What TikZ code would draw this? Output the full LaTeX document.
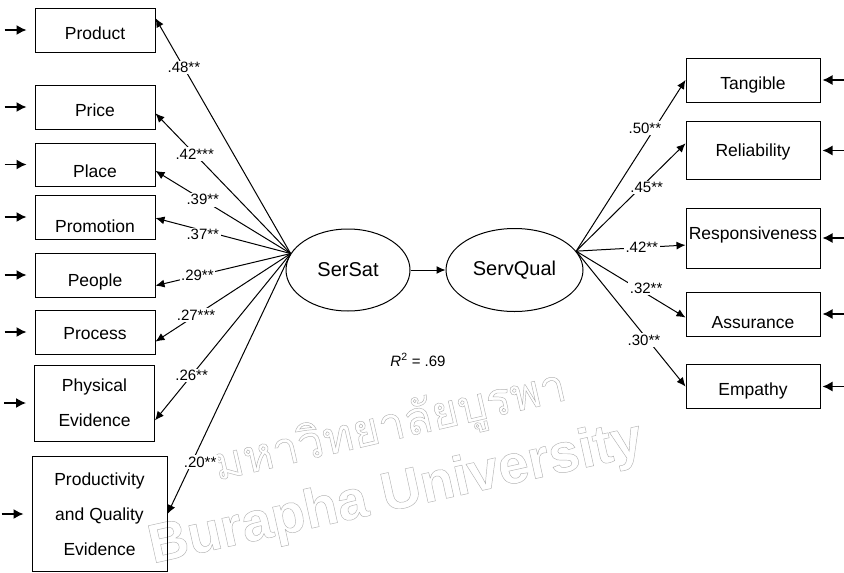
\documentclass[tikz,border=0pt]{standalone}
\usepackage{fontspec}
\setmainfont{Liberation Sans}
\newfontfamily\thaifont[Script=Thai]{Loma}
\usetikzlibrary{arrows.meta, positioning, shapes.geometric}
% hollow letters for the stamp
\newcommand{\hollowtext}[1]{\special{pdf:literal direct q 1 Tr 0.45 w}#1\special{pdf:literal direct Q}}

\begin{document}
\begin{tikzpicture}[
	x=1pt, y=-1pt,
	font=\fontsize{17.5}{35}\selectfont,
	line width=1pt,
	block/.style={rectangle, draw, align=center, inner sep=0pt,
		minimum width=120pt, minimum height=44pt},
	drop/.style={text height=#1, text depth=4pt},
	latent/.style={ellipse, draw, inner sep=0pt, font=\fontsize{20}{24}\selectfont},
	line/.style={draw, -{Latex[length=9pt, width=8pt]}},
	err/.style={line, line width=1.4pt, -{Latex[length=10pt, width=10pt]}},
	coef/.style={fill=white, inner sep=1.5pt, font=\fontsize{15}{18}\selectfont},
	stamp/.style={text=gray!60, inner sep=0pt},
	]
	\useasboundingbox (0,0) rectangle (844,573);

	% watermark
	\node [stamp, rotate=13, font=\fontsize{46}{60}\thaifont] (wmth) at (390,428)
		{\hollowtext{มหาวิทยาลัยบูรพา}};
	\node [stamp, rotate=12.5, font=\fontsize{55}{60}\selectfont\bfseries] (wmen) at (396,495)
		{\hollowtext{Burapha University}};

	% marketing mix
	\node [block, drop=22.5pt] (prod) at (95,30) {Product};
	\node [block, drop=22.5pt] (price) at (95,107) {Price};
	\node [block, drop=30.5pt, minimum height=43pt] (place) at (95,164.5) {Place};
	\node [block, drop=34.5pt] (promo) at (95,217) {Promotion};
	\node [block, drop=27.5pt] (people) at (95,275) {People};
	\node [block, drop=19.5pt] (process) at (95,332) {Process};
	\node [block, minimum height=76pt] (phys) at (94.5,403) {Physical\\Evidence};
	\node [block, minimum width=135pt, minimum height=115pt] (pqe) at (99.5,514)
		{Productivity\\and Quality\\Evidence};

	% latent variables
	\node [latent, minimum width=124pt, minimum height=82pt] (sersat) at (348,270) {SerSat};
	\node [latent, minimum width=137pt, minimum height=83pt, right=35pt of sersat] (servqual) {ServQual};
	\node [font=\fontsize{15}{18}\selectfont] (rsq) at (418,360) {\textit{R}\textsuperscript{2} = .69};

	% service quality
	\node [block, drop=22.5pt, minimum width=134pt] (tang) at (753,80) {Tangible};
	\node [block, drop=16.5pt, minimum width=134pt, minimum height=58pt] (relia) at (753,150.5) {Reliability};
	\node [block, drop=7.5pt, minimum width=134pt, minimum height=60pt] (resp) at (753,238) {Responsiveness};
	\node [block, drop=32.5pt, minimum width=134pt] (assur) at (753,314) {Assurance};
	\node [block, drop=21.5pt, minimum width=134pt] (empa) at (753,386.5) {Empathy};

	% error terms
	\foreach \n in {prod, price, place, promo, people, process, phys, pqe}
		\path [err, shorten >=8pt] ([xshift=-30pt]\n.west) -- (\n.west);
	\foreach \n in {tang, relia, resp, assur, empa}
		\path [err, shorten >=2pt] ([xshift=24pt]\n.east) -- (\n.east);

	\path [line] (sersat) -- (servqual);

	\path [line] (sersat.164) -- node[coef, pos=0.79] {.48**} (prod.11);
	\path [line] (sersat.164) -- node[coef, pos=0.71] {.42***} (price.-6);
	\path [line] (sersat.164) -- node[coef, pos=0.65] {.39**} (place.-6);
	\path [line] (sersat.164) -- node[coef, pos=0.65, yshift=-4pt] {.37**} (promo.-1);
	\path [line] (sersat.164) -- node[coef, pos=0.69] {.29**} (people.-10);
	\path [line] (sersat.164) -- node[coef, pos=0.70] {.27***} (process.-9);
	\path [line] (sersat.164) -- node[coef, pos=0.73] {.26**} (phys.-16);
	\path [line] (sersat.164) -- node[coef, pos=0.8, xshift=8pt] {.20**} (pqe.east);

	\path [line] (servqual.17) -- node[coef, pos=0.72, xshift=-10pt] {.50**} (tang.west);
	\path [line] (servqual.17) -- node[coef, pos=0.59, xshift=6pt] {.45**} (relia.174);
	\path [line] (servqual.17) -- node[coef, pos=0.6] {.42**} (resp.186);
	\path [line] (servqual.17) -- node[coef, pos=0.64, yshift=5pt] {.32**} (assur.183);
	\path [line] (servqual.17) -- node[coef, pos=0.62, yshift=-5pt] {.30**} (empa.west);
\end{tikzpicture}
\end{document}
